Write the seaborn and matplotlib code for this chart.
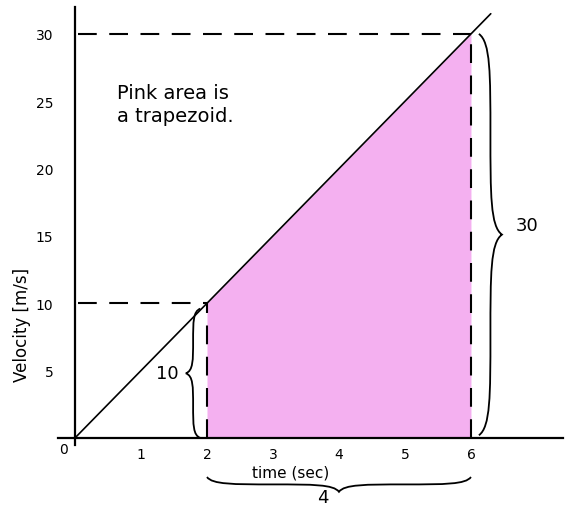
import numpy as np
import matplotlib.pyplot as plt
from matplotlib.path import Path
from matplotlib.patches import PathPatch
import seaborn as sns

# velocity line v = 5 t
line_t = [0, 6.3]
line_v = [0, 31.5]

# shaded trapezoid between t=2 and t=6
area_t = [2, 6]
area_v = [10, 30]

x_ticks = [1, 2, 3, 4, 5, 6]
y_ticks = [5, 10, 15, 20, 25, 30]

brace_labels = ["10", "30", "4"]

sns.set_style("white")
plt.rcParams['font.family'] = ['DejaVu Sans']
plt.rcParams['text.color'] = 'black'
plt.rcParams['xtick.color'] = 'black'
plt.rcParams['ytick.color'] = 'black'

fig = plt.figure(figsize=(5.65, 5.06), dpi=100)
ax = fig.add_axes([0.1035, 0.1192, 0.8936, 0.865])
ax.set_xlim(-0.25, 7.4)
ax.set_ylim(-0.5, 32)

pink = "#f4b0f0"
ax.fill_between(area_t, [0, 0], area_v, color=pink, lw=0, zorder=1)

sns.lineplot(x=line_t, y=line_v, color="black", lw=1.2, ax=ax, zorder=3)

# dashed guides
dash = dict(color="black", lw=1.5, dashes=(9, 6), zorder=2)
ax.plot([0.05, area_t[0]], [area_v[0], area_v[0]], **dash)
ax.plot([0.05, area_t[1]], [area_v[1], area_v[1]], **dash)
ax.plot([area_t[0], area_t[0]], [0, area_v[0]], **dash)
ax.plot([area_t[1], area_t[1]], [0, area_v[1]], **dash)

# axes through the origin
for side in ["top", "right"]:
    ax.spines[side].set_visible(False)
ax.spines["left"].set_position(("data", 0))
ax.spines["bottom"].set_position(("data", 0))
for side in ["left", "bottom"]:
    ax.spines[side].set_linewidth(1.6)
    ax.spines[side].set_color("black")
ax.set_xticks(x_ticks)
ax.set_yticks(y_ticks)
ax.tick_params(axis="both", direction="inout", length=7, width=1.2, labelsize=10)
ax.tick_params(axis="x", pad=3)
ax.tick_params(axis="y", pad=12)
ax.text(-0.17, -0.85, "0", ha="center", va="center", fontsize=10)

ax.text(-0.80, 8.5, "Velocity [m/s]", rotation=90, ha="center", va="center", fontsize=12)
ax.text(3.26, -2.55, "time (sec)", ha="center", va="center", fontsize=11, clip_on=False)

ax.text(0.64, 24.8, "Pink area is\na trapezoid.", ha="left", va="center",
        fontsize=14, linespacing=1.25)


def brace(ax, p0, p1, depth, vertical):
    # curly brace in normalised (u along, w across) coordinates
    pts = [(0, 0), (0.02, 0.5), (0.1, 0.5), (0.25, 0.5),
           (0.4, 0.5), (0.48, 0.5), (0.5, 1.0),
           (0.52, 0.5), (0.6, 0.5), (0.75, 0.5),
           (0.9, 0.5), (0.98, 0.5), (1, 0)]
    verts = []
    for u, w in pts:
        a = p0 + (p1 - p0) * u
        if vertical:
            verts.append((w * depth[1] + depth[0], a))
        else:
            verts.append((a, w * depth[1] + depth[0]))
    codes = [Path.MOVETO] + [Path.CURVE4] * 12
    ax.add_patch(PathPatch(Path(verts, codes), fill=False, lw=1.3,
                           color="black", clip_on=False))


brace(ax, 0.0, 9.6, (1.9, -0.22), vertical=True)
brace(ax, 0.2, 30.0, (6.12, 0.35), vertical=True)
brace(ax, 2.0, 6.0, (-2.9, -1.1), vertical=False)

ax.text(1.40, 4.8, brace_labels[0], ha="center", va="center", fontsize=13)
ax.text(6.85, 15.8, brace_labels[1], ha="center", va="center", fontsize=13)
ax.text(3.76, -4.35, brace_labels[2], ha="center", va="center", fontsize=13, clip_on=False)

ax.set_xlabel("")
ax.set_ylabel("")
fig.savefig("out.png", dpi=100)
